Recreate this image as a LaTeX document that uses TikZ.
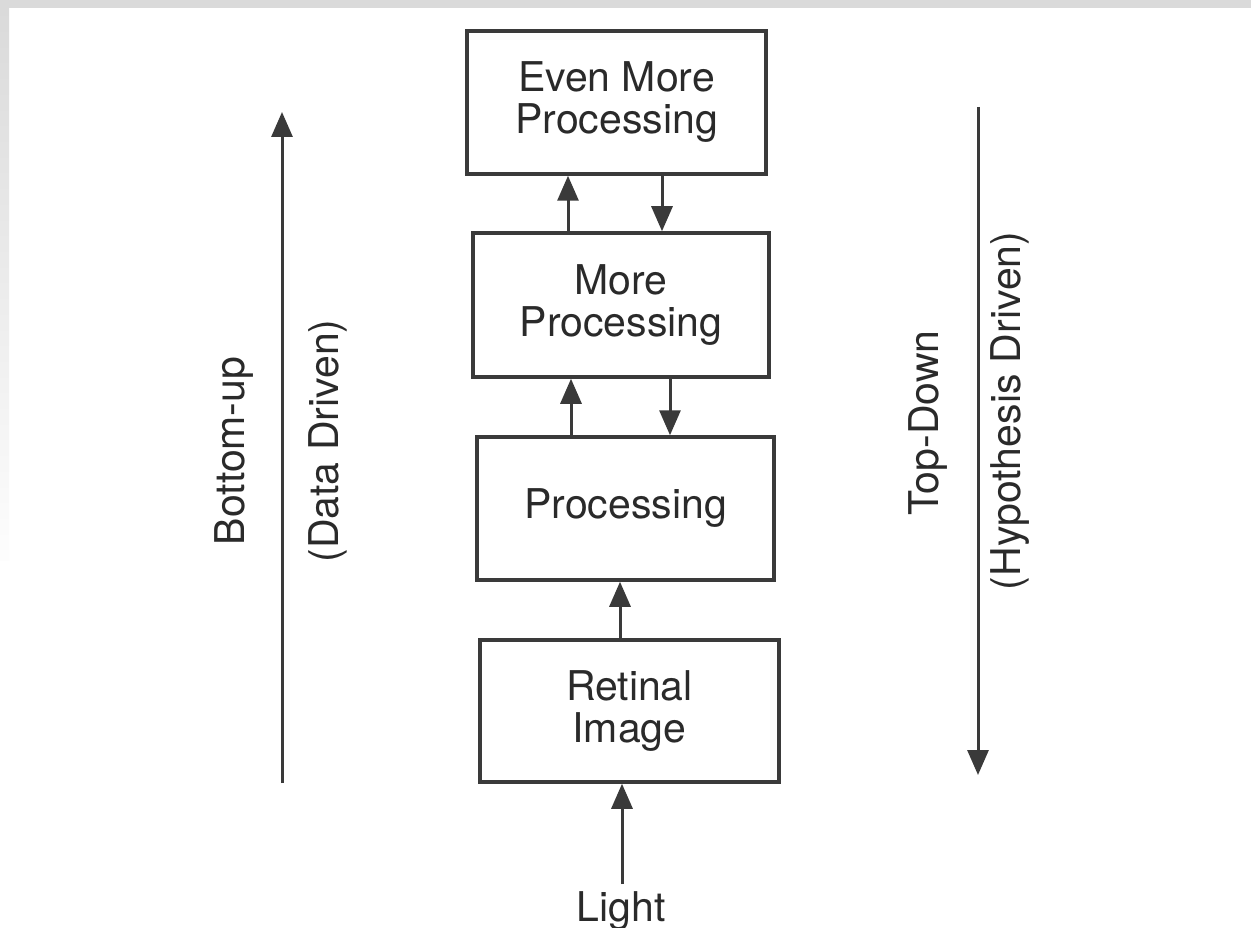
\documentclass[tikz,border=0pt]{standalone}
\usepackage{fontspec}
\setmainfont{TeX Gyre Heros}
\usetikzlibrary{arrows.meta}
\definecolor{ink}{HTML}{3A3A3A}
\definecolor{txt}{HTML}{2A2A2A}
\definecolor{frame}{HTML}{DADADA}
\tikzset{
  box/.style={draw=ink, line width=3.5pt, fill=white, minimum width=#1, align=center,
    text=txt, font=\fontsize{41}{42}\selectfont, inner sep=0pt},
  arr/.style={draw=ink, line width=3pt, -{Triangle[length=25pt,width=21pt]}},
  lbl/.style={text=txt, font=\fontsize{41}{42}\selectfont, inner sep=0pt, rotate=90}
}
\begin{document}
\begin{tikzpicture}[x=1pt,y=-1pt]
\useasboundingbox (0,0) rectangle (1251,928);
\fill[white] (0,0) rectangle (1251,928);
\fill[frame] (0,0) rectangle (1251,8);
\shade[top color=frame, bottom color=white!95!frame] (0,8) rectangle (9,560);

\node[box=299pt, minimum height=143pt] (b1) at (616.5,102.5) {Even More\\Processing};
\node[box=296pt, minimum height=144pt] (b2) at (621,305) {More\\Processing};
\node[box=297pt, minimum height=143pt] (b3) at (625.5,508.5) {Processing};
\node[box=299pt, minimum height=142pt] (b4) at (629.5,711) {Retinal\\Image};
\node[text=txt, font=\fontsize{41}{42}\selectfont, inner sep=0pt, anchor=base] (light) at (621,921) {Light};

\draw[arr] ([xshift=-53pt]b2.north) -- ([xshift=-53pt]b2.north |- b1.south);
\draw[arr] ([xshift=45.5pt]b1.south) -- ([xshift=45.5pt]b1.south |- b2.north);
\draw[arr] ([xshift=-54.5pt]b3.north) -- ([xshift=-54.5pt]b3.north |- b2.south);
\draw[arr] ([xshift=49pt]b2.south) -- ([xshift=49pt]b2.south |- b3.north);
\draw[arr] ([xshift=-9.5pt]b4.north) -- ([xshift=-9.5pt]b4.north |- b3.south);
\coordinate (lt) at (622,884);
\draw[arr] (lt) -- (lt |- b4.south);

\coordinate (bu0) at (282,783);
\coordinate (bu1) at (282,112);
\coordinate (td0) at (978,107);
\coordinate (td1) at (978,775);
\draw[arr] (bu0) -- (bu1);
\draw[arr] (td0) -- (td1);

\node[lbl] (bottomup) at (234,451) {Bottom-up};
\node[lbl] (datadriven) at (328,441) {(Data Driven)};
\node[lbl] (topdown) at (928,423) {Top-Down};
\node[lbl] (hypo) at (1010,411) {(Hypothesis Driven)};
\end{tikzpicture}
\end{document}
